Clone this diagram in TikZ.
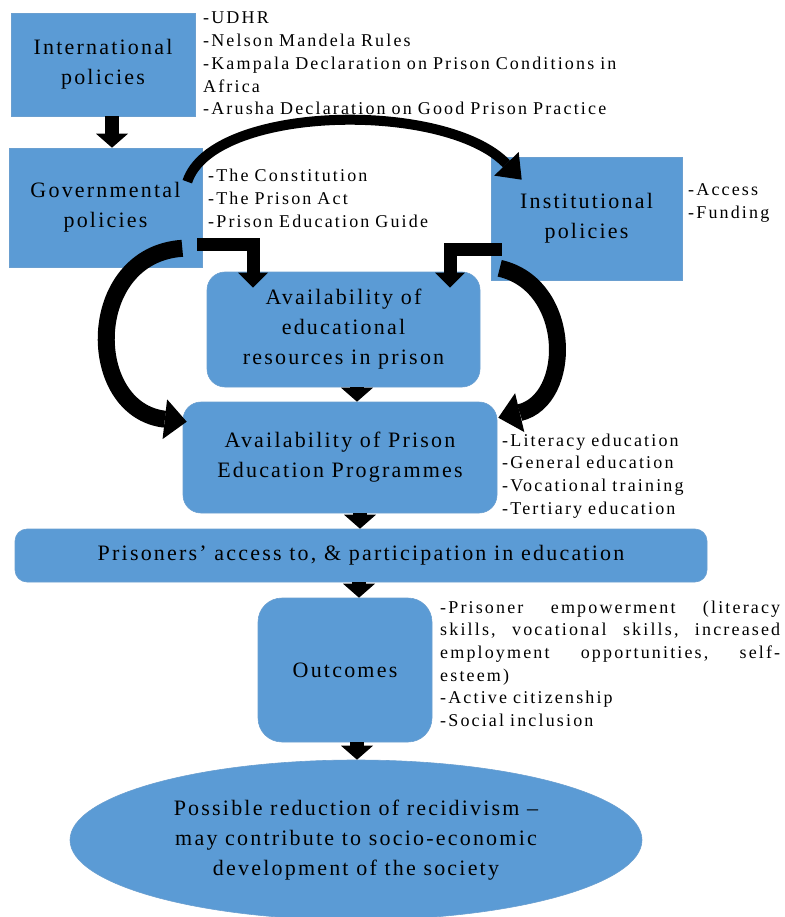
\documentclass[tikz,border=0pt]{standalone}
\usepackage{fontspec}
\setmainfont{Liberation Serif}[LetterSpace=10]
\newfontfamily\bulfam{Liberation Serif}[LetterSpace=12]
\usetikzlibrary{arrows.meta,shapes.geometric,calc}
\definecolor{boxblue}{HTML}{5B9BD5}
\definecolor{boxedge}{HTML}{6A9FD0}
\newcommand\boxfont{\fontsize{22}{30}\selectfont}
\newcommand\bulfont{\bulfam\fontsize{18}{22.7}\selectfont}
\newcommand\jline[1]{\leavevmode\hbox to 340pt{#1}}
\begin{document}
\begin{tikzpicture}[x=1pt,y=-1pt,
  sq/.style={fill=boxblue, draw=boxedge, line width=0.6pt, inner sep=0pt, align=center, font=\boxfont},
  rd/.style={sq, rounded corners=18pt},
  bul/.style={anchor=base west, inner sep=0pt, text width=#1, align=left, font=\bulfont},
  sarrow/.style={line width=14pt, -{Triangle[width=32pt,length=14pt,line width=0pt]}},
  earrow/.style={line width=13pt, line join=miter, -{Triangle[width=30pt,length=15pt,line width=0pt]}},
  carrow/.style={line width=10pt, -{Triangle[width=34pt,length=22pt,line width=0pt]}},
  barc/.style={line width=17pt, -{Triangle[width=40pt,length=22pt,line width=0pt]}}
]
\useasboundingbox (0,0) rectangle (784,917);

% boxes
\node[sq, minimum width=184pt, minimum height=103pt] (intl) at (103,64.5) {International\\policies};
\node[sq, minimum width=193pt, minimum height=119pt] (gov) at (105.5,207.5) {Governmental\\policies};
\node[sq, minimum width=191pt, minimum height=123pt] (inst) at (586.5,218.5) {Institutional\\policies};
\node[rd, minimum width=273pt, minimum height=115pt] (edu) at (343.5,329.5) {Availability of\\educational\\resources in prison};
\node[rd, minimum width=314pt, minimum height=111pt] (prog) at (340,457.5) {Availability of Prison\\Education Programmes};
\node[rd, rounded corners=12pt, minimum width=692pt, minimum height=53pt] (pris) at (361,555.5) {Prisoners' access to, \& participation in education};
\node[rd, rounded corners=24pt, minimum width=174pt, minimum height=144pt] (outc) at (345,670) {Outcomes};
\node[sq, ellipse, minimum width=572pt, minimum height=160pt] (ell) at (356,840) {Possible reduction of recidivism --\\may contribute to socio-economic\\development of the society};

% bullet lists
\node[bul=440pt] (intlb) at (203,24) {-UDHR\\-Nelson Mandela Rules\\-Kampala Declaration on Prison Conditions in\\Africa\\-Arusha Declaration on Good Prison Practice};
\node[bul=260pt] (govb) at (208,182) {-The Constitution\\-The Prison Act\\-Prison Education Guide};
\node[bul=100pt] (instb) at (688,196) {-Access\\-Funding};
\node[bul=220pt] (progb) at (502,446) {-Literacy education\\-General education\\-Vocational training\\-Tertiary education};
\node[bul=342pt] (outcb) at (440,613) {\jline{-Prisoner\hfill empowerment\hfill (literacy}\\\jline{skills,\hfill vocational\hfill skills,\hfill increased}\\\jline{employment\hfill opportunities,\hfill self-}\\esteem)\\-Active citizenship\\-Social inclusion};

% straight arrows
\draw[sarrow] ([xshift=9pt]intl.south) -- ([xshift=9pt]intl.south |- gov.north);
\draw[sarrow] ([xshift=13.5pt]edu.south) -- ([xshift=13.5pt]edu.south |- prog.north);
\draw[sarrow] ([xshift=20pt]prog.south) -- ([xshift=20pt]prog.south |- pris.north);
\draw[sarrow] ([xshift=-2pt]pris.south) -- ([xshift=-2pt]pris.south |- outc.north);
\draw[sarrow] ([xshift=12pt]outc.south) -- ([xshift=12pt]outc.south |- ell.north);

% elbow arrows
\draw[earrow] ([xshift=-5pt]gov.east |- 0,244) -| ([yshift=-16pt]edu.north -| 253,0);
\draw[earrow] ([xshift=11pt]inst.west |- 0,249) -| ([yshift=-16pt]edu.north -| 450,0);

% curved arrows
\draw[carrow] ($(gov.north east)+(-15,34)$) .. controls (212,105) and (445,100) .. ($(inst.north west)+(31,23)$);
\draw[barc] ($(gov.south east)+(-20,-19)$) .. controls (84,255) and (84,410) .. ($(prog.north west)+(4,20)$);
\draw[barc] ($(inst.south west)+(9,-12)$) .. controls (573,285) and (573,400) .. ($(prog.north east)+(1,16)$);
\end{tikzpicture}
\end{document}
